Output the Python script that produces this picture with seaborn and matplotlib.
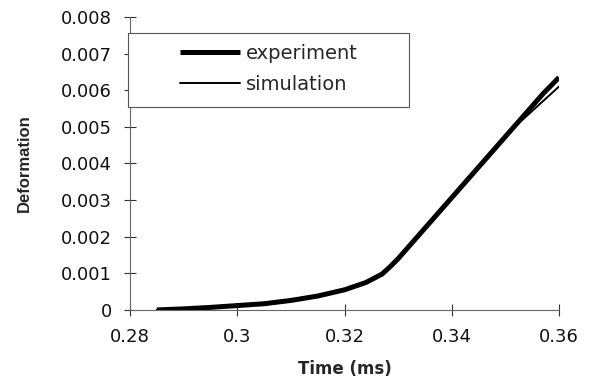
import numpy as np
import pandas as pd
import matplotlib
matplotlib.use("Agg")
import matplotlib.pyplot as plt
from matplotlib.patches import Rectangle
import seaborn as sns

# Measured deformation vs. time
time_exp = [0.285, 0.290, 0.295, 0.300, 0.305, 0.310, 0.315, 0.320, 0.324, 0.327,
            0.3285, 0.330, 0.333, 0.336, 0.339, 0.342, 0.345, 0.348, 0.351, 0.354,
            0.357, 0.360]
def_exp = [0.0, 0.00003, 0.00007, 0.00012, 0.00017, 0.00026, 0.00038, 0.00055, 0.00075, 0.00098,
           0.00118, 0.0014, 0.0019, 0.0024, 0.0029, 0.0034, 0.0039, 0.0044, 0.0049, 0.0054,
           0.0059, 0.00635]

# Simulated deformation vs. time
time_sim = [0.285, 0.290, 0.295, 0.300, 0.305, 0.310, 0.315, 0.320, 0.324, 0.327,
            0.3285, 0.330, 0.333, 0.336, 0.339, 0.342, 0.345, 0.348, 0.351, 0.354,
            0.357, 0.360]
def_sim = [0.0, 0.00003, 0.00007, 0.00012, 0.00017, 0.00026, 0.00038, 0.00055, 0.00075, 0.00098,
           0.00118, 0.0014, 0.0019, 0.0024, 0.0029, 0.0034, 0.0039, 0.0044, 0.0049, 0.0053,
           0.0057, 0.0061]

x_ticks = [0.28, 0.30, 0.32, 0.34, 0.36]
x_tick_labels = ["0.28", "0.3", "0.32", "0.34", "0.36"]
y_ticks = [0, 0.001, 0.002, 0.003, 0.004, 0.005, 0.006, 0.007, 0.008]
y_tick_labels = ["0", "0.001", "0.002", "0.003", "0.004", "0.005", "0.006", "0.007", "0.008"]

sns.set_style("white")
plt.rcParams["font.family"] = ["DejaVu Sans"]

fig = plt.figure(figsize=(5.95, 3.86), dpi=100)
ax = fig.add_axes([0.2185, 0.197, 0.721, 0.759])

df_exp = pd.DataFrame({"t": time_exp, "d": def_exp})
df_sim = pd.DataFrame({"t": time_sim, "d": def_sim})
sns.lineplot(data=df_exp, x="t", y="d", ax=ax, color="black", linewidth=3.6,
             label="experiment", solid_capstyle="butt")
sns.lineplot(data=df_sim, x="t", y="d", ax=ax, color="black", linewidth=1.4,
             label="simulation")

ax.set_xlim(0.28, 0.36)
ax.set_ylim(0, 0.008)
ax.set_xticks(x_ticks)
ax.set_xticklabels(x_tick_labels)
ax.set_yticks(y_ticks)
ax.set_yticklabels(y_tick_labels)

for s in ["top", "right"]:
    ax.spines[s].set_visible(False)
for s in ["left", "bottom"]:
    ax.spines[s].set_color("#666666")
    ax.spines[s].set_linewidth(0.8)

ax.tick_params(axis="both", direction="inout", length=8, width=0.8, color="#333333",
               labelsize=13, pad=9, labelcolor="#111111", bottom=True, left=True)

ax.set_xlabel("Time (ms)", fontsize=12, fontweight="bold", labelpad=10)
ax.set_ylabel("Deformation", fontsize=12, fontweight="bold", labelpad=21,
              family=["Liberation Sans", "DejaVu Sans"])

# Legend box
ax.add_patch(Rectangle((-0.005, 0.693), 0.655, 0.252, transform=ax.transAxes,
                       facecolor="white", edgecolor="#555555", linewidth=0.8,
                       clip_on=False, zorder=4))
leg = ax.legend(loc="upper left", bbox_to_anchor=(0.1166, 0.908), frameon=False,
                fontsize=14, handlelength=3.1, handletextpad=0.3, labelspacing=0.6,
                borderpad=0.0, borderaxespad=0.0)
leg.set_zorder(5)

fig.savefig("out.png", dpi=100)
